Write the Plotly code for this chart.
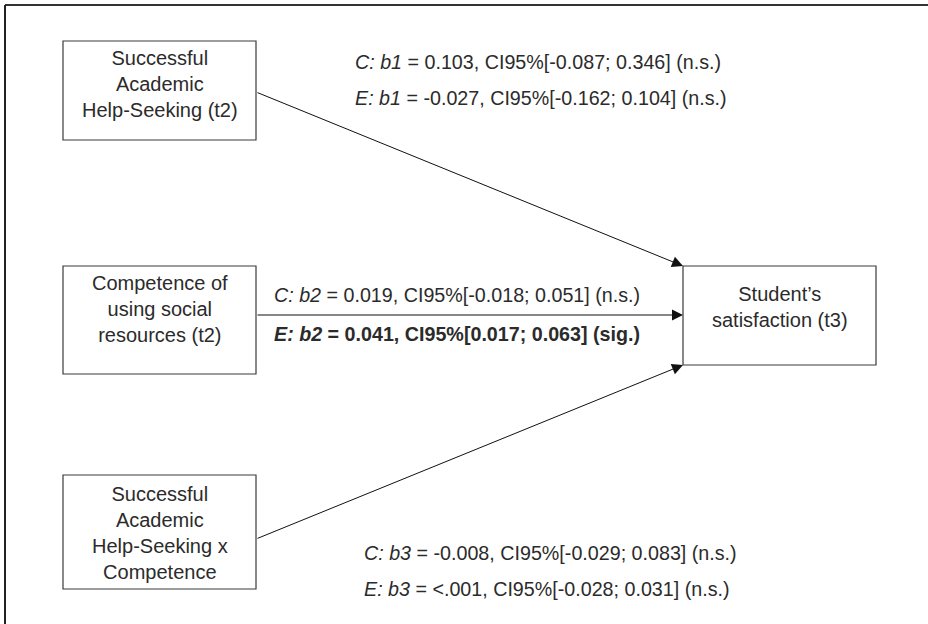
import plotly.graph_objects as go
import html

# ---------------- data ----------------
predictors = [
    "Successful<br>Academic<br>Help-Seeking (t2)",
    "Competence of<br>using social<br>resources (t2)",
    "Successful<br>Academic<br>Help-Seeking x<br>Competence",
]
outcome = "Student’s<br>satisfaction (t3)"
coef_names = ["b1", "b2", "b3"]

c_b = ["0.103", "0.019", "-0.008"]
c_lo = ["-0.087", "-0.018", "-0.029"]
c_hi = ["0.346", "0.051", "0.083"]
c_sig = ["n.s.", "n.s.", "n.s."]

e_b = ["-0.027", "0.041", "<.001"]
e_lo = ["-0.162", "0.017", "-0.028"]
e_hi = ["0.104", "0.063", "0.031"]
e_sig = ["n.s.", "sig.", "n.s."]

# ---------------- layout geometry (pixels) ----------------
W, H = 928, 624
FONT = "Liberation Sans, Arial, Helvetica, sans-serif"
FS_BOX = 20
FS = 19.7
TXT = "#2b2b2b"
BOX_COL = "#3a3a3a"

pred_boxes = [(63, 41, 256, 140), (63, 266, 256, 374), (63, 475, 256, 589)]
out_box = (683, 266, 876, 365)
box_label_y = [84, 309, 533, 307]
src_y = [92, 315, 539]
dst_y = [266, 315, 365]
label_pos = [  # (x, yC, yE)
    (353, 62, 98),
    (272, 295, 334),
    (362, 553, 589),
]

fig = go.Figure()

shapes = []
# outer frame (top and left border only visible)
shapes.append(dict(type="line", xref="x", yref="y", x0=5, y0=5, x1=W + 5, y1=5,
                   line=dict(color="#333333", width=2)))
shapes.append(dict(type="line", xref="x", yref="y", x0=5, y0=5, x1=5, y1=H + 5,
                   line=dict(color="#222222", width=2)))

for (x0, y0, x1, y1) in pred_boxes + [out_box]:
    shapes.append(dict(type="rect", xref="x", yref="y", x0=x0, y0=y0, x1=x1, y1=y1,
                       line=dict(color=BOX_COL, width=1.2), fillcolor="white"))

annotations = []
# box labels
for (x0, y0, x1, y1), ly, lab in zip(pred_boxes + [out_box], box_label_y, predictors + [outcome]):
    annotations.append(dict(x=(x0 + x1) / 2, y=ly, xref="x", yref="y",
                            text=lab, showarrow=False, align="center",
                            font=dict(family=FONT, size=FS_BOX, color=TXT)))

# arrows
for i in range(3):
    annotations.append(dict(x=out_box[0], y=dst_y[i], ax=pred_boxes[i][2], ay=src_y[i],
                            xref="x", yref="y", axref="x", ayref="y", text="",
                            showarrow=True, arrowhead=2, arrowsize=2.2, arrowwidth=1,
                            arrowcolor="#111111", standoff=0, startstandoff=0))

# coefficient labels
def fmt(group, name, b, lo, hi, sig):
    s = f"<i>{group}: {name}</i> = {html.escape(b)}, CI95%[{lo}; {hi}] ({sig})"
    if sig == "sig.":
        s = f"<b>{s}</b>"
    return s

for i in range(3):
    x, yc, ye = label_pos[i]
    annotations.append(dict(x=x, y=yc, xref="x", yref="y", xanchor="left", yanchor="middle",
                            text=fmt("C", coef_names[i], c_b[i], c_lo[i], c_hi[i], c_sig[i]),
                            showarrow=False, font=dict(family=FONT, size=FS, color=TXT)))
    annotations.append(dict(x=x, y=ye, xref="x", yref="y", xanchor="left", yanchor="middle",
                            text=fmt("E", coef_names[i], e_b[i], e_lo[i], e_hi[i], e_sig[i]),
                            showarrow=False, font=dict(family=FONT, size=FS, color=TXT)))

fig.update_layout(
    width=W, height=H, autosize=False,
    margin=dict(l=0, r=0, t=0, b=0),
    paper_bgcolor="white", plot_bgcolor="white",
    xaxis=dict(range=[0, W], visible=False, fixedrange=True),
    yaxis=dict(range=[H, 0], visible=False, fixedrange=True),
    shapes=shapes, annotations=annotations, showlegend=False,
)

fig.write_html(
    "out.html",
    config={"displayModeBar": False, "staticPlot": True},
    post_script="document.body.style.margin='0';document.body.style.overflow='hidden';",
)
